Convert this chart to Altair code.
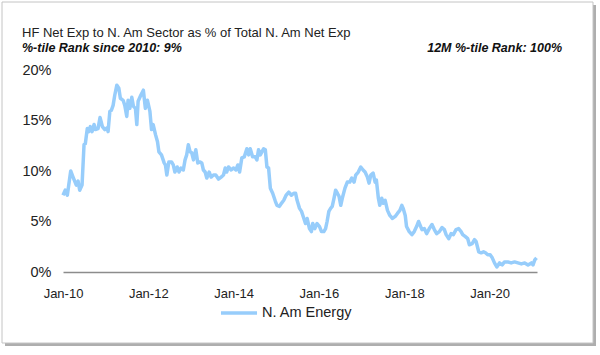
import altair as alt
import pandas as pd

TITLE = "HF Net Exp to N. Am Sector as % of Total N. Am Net Exp"
SUB_LEFT = "%-tile Rank since 2010: 9%"
SUB_RIGHT = "12M %-tile Rank: 100%"
SERIES = "N. Am Energy"

dates = [
    "2010-01-01", "2010-01-20", "2010-02-07", "2010-03-08", "2010-03-28", "2010-04-25",
    "2010-05-10", "2010-05-24", "2010-06-13", "2010-06-30", "2010-07-11", "2010-07-28",
    "2010-08-09", "2010-08-23", "2010-09-07", "2010-09-24", "2010-10-05", "2010-10-28",
    "2010-11-14", "2010-12-04", "2010-12-25", "2011-01-16", "2011-01-22", "2011-02-06",
    "2011-02-19", "2011-03-06", "2011-03-20", "2011-04-07", "2011-04-24", "2011-05-07",
    "2011-05-31", "2011-06-14", "2011-07-01", "2011-07-12", "2011-07-27", "2011-08-13",
    "2011-08-27", "2011-09-13", "2011-09-25", "2011-10-06", "2011-10-29", "2011-11-20",
    "2011-12-07", "2011-12-25", "2012-01-15", "2012-01-29", "2012-02-12", "2012-03-03",
    "2012-03-20", "2012-04-01", "2012-04-23", "2012-05-16", "2012-05-27", "2012-06-08",
    "2012-06-25", "2012-07-18", "2012-08-02", "2012-08-16", "2012-09-05", "2012-09-20",
    "2012-10-07", "2012-10-27", "2012-11-11", "2012-11-25", "2012-12-09", "2012-12-24",
    "2013-01-07", "2013-01-22", "2013-02-11", "2013-02-28", "2013-03-20", "2013-04-03",
    "2013-04-17", "2013-05-02", "2013-05-16", "2013-06-05", "2013-06-22", "2013-07-12",
    "2013-08-01", "2013-08-24", "2013-09-16", "2013-10-06", "2013-10-21", "2013-11-03",
    "2013-11-18", "2013-12-11", "2014-01-01", "2014-01-20", "2014-02-06", "2014-02-21",
    "2014-03-12", "2014-04-02", "2014-04-24", "2014-05-09", "2014-05-23", "2014-06-12",
    "2014-07-05", "2014-07-19", "2014-08-02", "2014-08-17", "2014-08-31", "2014-09-14",
    "2014-09-29", "2014-10-13", "2014-10-27", "2014-11-11", "2014-12-01", "2014-12-24",
    "2015-01-07", "2015-01-28", "2015-02-14", "2015-03-06", "2015-03-26", "2015-04-18",
    "2015-05-11", "2015-05-31", "2015-06-15", "2015-06-28", "2015-07-19", "2015-08-05",
    "2015-08-25", "2015-09-08", "2015-09-22", "2015-10-12", "2015-10-29", "2015-11-09",
    "2015-11-27", "2015-12-16", "2016-01-06", "2016-01-23", "2016-02-12", "2016-02-27",
    "2016-03-11", "2016-03-26", "2016-04-10", "2016-04-24", "2016-05-09", "2016-05-23",
    "2016-06-07", "2016-06-21", "2016-07-06", "2016-07-19", "2016-08-11", "2016-08-31",
    "2016-09-21", "2016-10-08", "2016-10-28", "2016-11-11", "2016-12-03", "2016-12-24",
    "2017-01-13", "2017-01-30", "2017-02-19", "2017-03-05", "2017-03-20", "2017-04-09",
    "2017-04-26", "2017-05-07", "2017-05-24", "2017-06-05", "2017-06-22", "2017-07-04",
    "2017-07-21", "2017-08-10", "2017-08-30", "2017-09-22", "2017-10-15", "2017-11-03",
    "2017-11-24", "2017-12-11", "2017-12-22", "2018-01-09", "2018-01-20", "2018-02-12",
    "2018-03-07", "2018-03-27", "2018-04-16", "2018-05-03", "2018-06-01", "2018-06-21",
    "2018-07-11", "2018-08-03", "2018-08-26", "2018-09-15", "2018-10-05", "2018-10-28",
    "2018-11-20", "2018-12-10", "2018-12-25", "2019-01-16", "2019-02-06", "2019-02-25",
    "2019-03-20", "2019-04-11", "2019-05-02", "2019-05-16", "2019-06-08", "2019-06-28",
    "2019-07-12", "2019-08-05", "2019-08-25", "2019-09-08", "2019-09-30", "2019-10-21",
    "2019-11-10", "2019-11-27", "2019-12-16", "2020-01-06", "2020-01-24", "2020-02-12",
    "2020-03-03", "2020-03-26", "2020-04-18", "2020-05-08", "2020-06-05", "2020-07-04",
    "2020-08-02", "2020-08-31", "2020-09-29", "2020-10-28", "2020-11-25", "2020-12-24",
    "2021-01-07", "2021-01-22", "2021-02-06",
]

values = [
    7.6, 8.1, 7.6, 10.0, 9.4, 8.6,
    9.0, 8.1, 8.6, 12.6, 12.7, 14.2,
    13.9, 14.4, 13.9, 14.6, 14.1, 14.2,
    15.3, 14.4, 14.1, 14.3, 13.9, 15.9,
    16.0, 16.5, 17.5, 18.5, 18.2, 17.2,
    17.0, 16.5, 15.4, 17.0, 16.2, 17.3,
    16.4, 16.2, 14.6, 16.9, 17.5, 18.0,
    16.2, 17.0, 15.9, 14.1, 14.6, 13.6,
    12.9, 11.9, 11.6, 10.8, 10.6, 9.6,
    10.9, 10.9, 10.6, 9.9, 10.4, 9.9,
    10.3, 10.1, 11.1, 11.6, 12.6, 11.9,
    11.8, 11.1, 12.1, 10.8, 10.9, 10.8,
    10.1, 9.9, 9.3, 9.9, 9.4, 9.6,
    9.6, 9.2, 9.4, 9.6, 10.3, 9.9,
    10.4, 10.1, 10.3, 10.1, 10.6, 9.9,
    11.3, 11.4, 12.2, 11.6, 12.2, 11.4,
    11.4, 11.1, 12.1, 11.6, 11.9, 12.2,
    12.1, 10.4, 10.3, 8.3, 7.8, 7.0,
    6.6, 6.5, 6.8, 7.1, 7.6, 7.9,
    7.6, 7.8, 7.8, 7.1, 6.3, 6.0,
    5.3, 4.8, 5.3, 4.3, 4.0, 4.8,
    4.3, 4.8, 4.5, 4.0, 4.0, 4.3,
    5.0, 6.0, 6.3, 6.5, 7.3, 8.1,
    7.8, 7.5, 6.6, 7.3, 8.3, 8.9,
    8.9, 9.3, 8.9, 9.6, 9.9, 10.4,
    10.1, 9.9, 9.4, 8.8, 9.6, 9.8,
    8.9, 9.1, 7.3, 6.6, 7.3, 6.8,
    7.1, 6.1, 5.6, 5.3, 5.5, 5.8,
    6.1, 6.6, 6.3, 5.6, 4.5, 4.0,
    3.7, 4.0, 4.5, 5.0, 4.2, 4.3,
    3.8, 4.3, 4.7, 4.2, 3.8, 4.0,
    4.4, 4.2, 3.7, 3.3, 3.8, 3.7,
    4.2, 4.3, 4.0, 3.7, 3.5, 3.3,
    2.7, 2.8, 3.2, 3.0, 2.0, 1.9,
    2.0, 1.9, 1.7, 1.7, 1.4, 0.9,
    0.5, 0.9, 0.7, 1.0, 1.0, 0.9,
    1.0, 0.9, 0.8, 0.9, 0.7, 0.9,
    0.7, 1.2, 1.4,
]

y_ticks = [0, 5, 10, 15, 20]
x_tick_years = [2010, 2012, 2014, 2016, 2018, 2020]

FONT = "Liberation Sans"
LINE_COLOR = "#97CDFB"

df = pd.DataFrame({"date": dates, "value": values, "series": SERIES})

W, H = 474, 202
PL, PT = 63, 70

one = pd.DataFrame({"a": [0]})

shadow = alt.Chart(one).mark_rect(fill="#9a9a9a", opacity=0.8).encode(
    x=alt.value(-58), x2=alt.value(533), y=alt.value(-65), y2=alt.value(276)
)
frame = alt.Chart(one).mark_rect(fill="white", stroke="#c4c4c4", strokeWidth=1).encode(
    x=alt.value(-61), x2=alt.value(530), y=alt.value(-68), y2=alt.value(273)
)

line = alt.Chart(df).mark_line(strokeWidth=3.5, strokeJoin="round").encode(
    x=alt.X(
        "date:T",
        scale=alt.Scale(
            type="utc",
            domain=[alt.DateTime(year=2010, month=1, date=1, utc=True),
                    alt.DateTime(year=2021, month=2, date=10, utc=True)],
        ),
        axis=alt.Axis(
            title=None,
            format="%b-%y",
            values=[alt.DateTime(year=y, month=1, date=1, utc=True) for y in x_tick_years],
            ticks=False,
            tickSize=0,
            grid=False,
            domainColor="#8c8c8c",
            domainWidth=1.5,
            labelFont=FONT,
            labelFontSize=13,
            labelColor="#222222",
            labelPadding=15,
            labelFlush=False,
            zindex=1,
        ),
    ),
    y=alt.Y(
        "value:Q",
        scale=alt.Scale(domain=[0, 20], nice=False, zero=True),
        axis=alt.Axis(
            title=None,
            values=y_ticks,
            labelExpr="datum.value + '%'",
            domain=False,
            ticks=False,
            tickSize=0,
            grid=False,
            labelFont=FONT,
            labelFontSize=14.5,
            labelColor="#222222",
            labelPadding=12,
            zindex=1,
        ),
    ),
    color=alt.Color(
        "series:N",
        scale=alt.Scale(domain=[SERIES], range=[LINE_COLOR]),
        legend=alt.Legend(
            title=None,
            orient="none",
            legendX=156,
            legendY=223,
            symbolType="stroke",
            symbolSize=1300,
            symbolStrokeWidth=3.5,
            labelFont=FONT,
            labelFontSize=14.5,
            labelColor="#222222",
            labelOffset=3,
            padding=0,
        ),
    ),
)

title_t = alt.Chart(pd.DataFrame({"t": [TITLE]})).mark_text(
    align="left", baseline="middle", font=FONT, fontSize=13, color="#222222"
).encode(text="t:N", x=alt.value(22 - PL), y=alt.value(33 - PT))

sub_l = alt.Chart(pd.DataFrame({"t": [SUB_LEFT]})).mark_text(
    align="left", baseline="middle", font=FONT, fontSize=12.5, fontWeight="bold",
    fontStyle="italic", color="#111111"
).encode(text="t:N", x=alt.value(22 - PL), y=alt.value(48 - PT))

sub_r = alt.Chart(pd.DataFrame({"t": [SUB_RIGHT]})).mark_text(
    align="right", baseline="middle", font=FONT, fontSize=12.5, fontWeight="bold",
    fontStyle="italic", color="#111111"
).encode(text="t:N", x=alt.value(562 - PL), y=alt.value(48 - PT))

chart = alt.layer(shadow, frame, line, title_t, sub_l, sub_r).properties(
    width=W,
    height=H,
    autosize=alt.AutoSizeParams(type="none"),
    padding={"left": PL, "top": PT, "right": 600 - PL - W, "bottom": 355 - PT - H},
    background="white",
).configure_view(strokeWidth=0)

chart.save("out.html", embed_options={"renderer": "svg", "actions": False})
